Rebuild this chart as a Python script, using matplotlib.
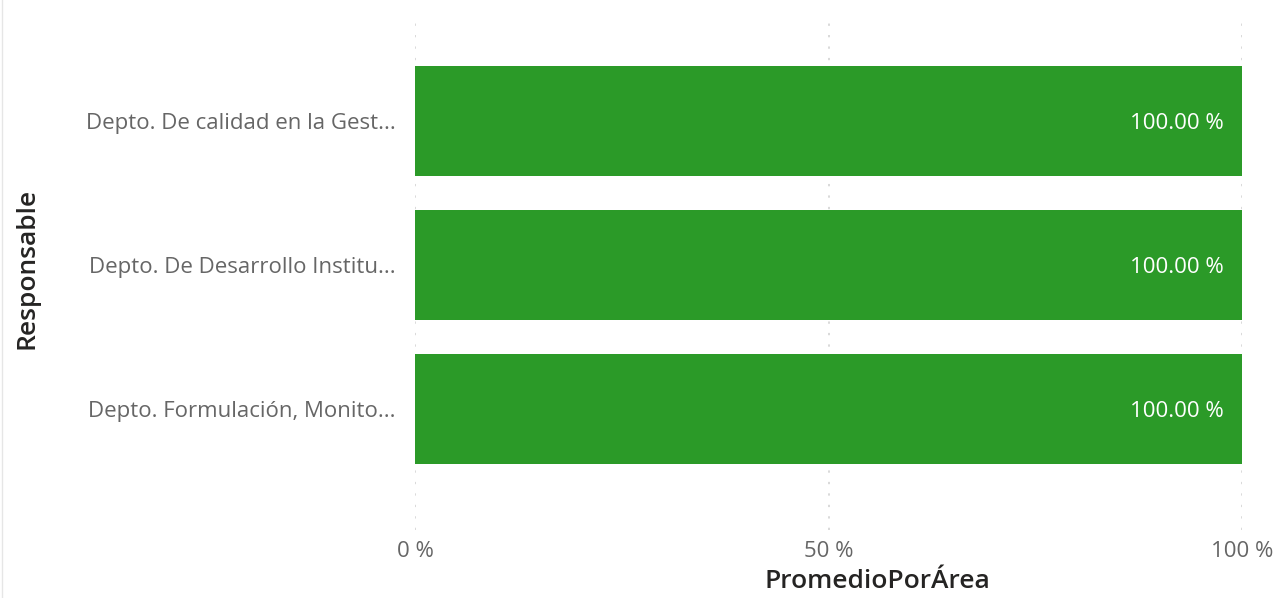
import matplotlib
matplotlib.use("Agg")
import matplotlib.pyplot as plt
from matplotlib.lines import Line2D

categories = ["Depto. De calidad en la Gest...",
              "Depto. De Desarrollo Institu...",
              "Depto. Formulación, Monito..."]
values = [100.0, 100.0, 100.0]
xticks = [0, 50, 100]
xtick_labels = ["0 %", "50 %", "100 %"]
value_labels = ["100.00 %", "100.00 %", "100.00 %"]

plt.rcParams['font.family'] = ['Open Sans', 'DejaVu Sans']

W, H = 1280, 598
fig = plt.figure(figsize=(W/100, H/100), dpi=100)
ax = fig.add_axes([415/W, 1-530/H, (1242-415)/W, (530-15)/H])

ypos = list(range(len(categories)))
ax.barh(ypos, values, height=0.764, color="#2b9a28", zorder=2)
ax.set_xlim(0, 100)
ax.set_ylim(2 + 0.84, -0.736)

for y, v, lab in zip(ypos, values, value_labels):
    ax.annotate(lab, xy=(v, y), xytext=(-13, 0), textcoords="offset points",
                ha="right", va="center_baseline", color="white", fontsize=16, zorder=3)

ax.set_xticks(xticks)
ax.set_xticklabels(xtick_labels, color="#666666", fontsize=16)
ax.set_yticks(ypos)
ax.set_yticklabels(categories, color="#666666", fontsize=16)
ax.tick_params(axis="both", length=0)
ax.tick_params(axis="x", pad=8)
ax.tick_params(axis="y", pad=14)
ax.grid(axis="x", color="#d0d0d0", linestyle=(0, (1.5, 6)), linewidth=1.1, zorder=1)
for s in ax.spines.values():
    s.set_visible(False)

fig.text(877/W, 1-582/H, "PromedioPorÁrea", ha="center", va="center",
         fontsize=19, color="#252423", fontweight="semibold")
fig.text(27/W, 1-268/H, "Responsable", ha="center", va="center",
         rotation=90, fontsize=19, color="#252423", fontweight="semibold")

fig.add_artist(Line2D([2/W, 2/W], [0, 1], transform=fig.transFigure,
                      color="#e6e6e6", linewidth=1))

fig.savefig("out.png", dpi=100)
